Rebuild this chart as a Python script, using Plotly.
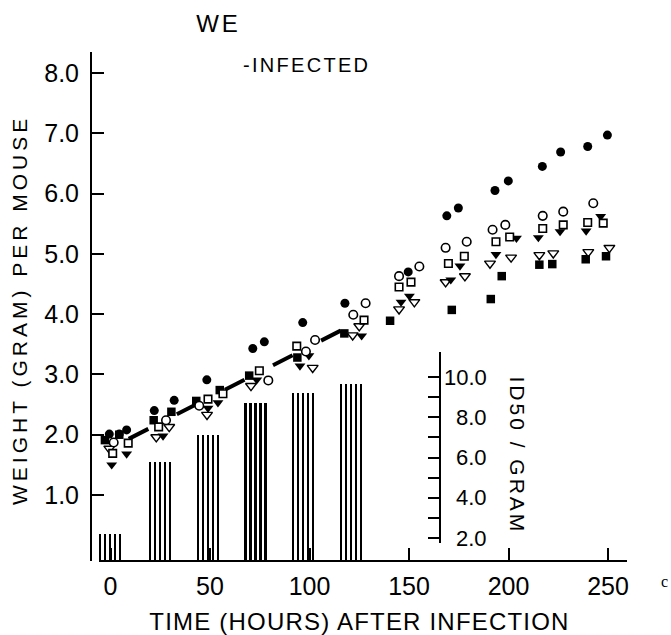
import plotly.graph_objects as go

# ---------------------------------------------------------------- data
# Weight per mouse (gram) against time after infection (hours), six groups.
FILLED_CIRCLE_HOURS = [-0.6, 4.4, 8.1, 22.0, 32.0, 48.4, 71.5, 77.3, 96.6, 117.8,
                       149.6, 169.0, 174.8, 193.2, 199.9, 217.0, 226.2, 239.8, 249.7]
FILLED_CIRCLE_WEIGHT = [2.01, 2.01, 2.08, 2.40, 2.57, 2.91, 3.43, 3.54, 3.86, 4.18,
                        4.70, 5.63, 5.76, 6.05, 6.21, 6.45, 6.69, 6.78, 6.97]

OPEN_CIRCLE_HOURS = [1.6, 27.9, 44.6, 79.3, 98.2, 102.8, 122.0, 128.2, 145.0, 155.2,
                     168.4, 179.0, 192.0, 198.4, 217.2, 227.5, 242.6]
OPEN_CIRCLE_WEIGHT = [1.87, 2.24, 2.48, 2.90, 3.38, 3.57, 3.99, 4.18, 4.63, 4.79,
                      5.10, 5.20, 5.40, 5.48, 5.63, 5.70, 5.84]

OPEN_SQUARE_HOURS = [1.1, 8.9, 24.2, 49.0, 56.5, 74.8, 93.6, 127.4, 145.0, 151.0,
                     169.8, 177.8, 193.7, 200.6, 217.2, 227.5, 239.8, 247.6]
OPEN_SQUARE_WEIGHT = [1.69, 1.86, 2.13, 2.59, 2.68, 3.06, 3.47, 3.90, 4.45, 4.53,
                      4.84, 4.96, 5.20, 5.28, 5.42, 5.48, 5.52, 5.51]

FILLED_SQUARE_HOURS = [-2.8, 4.4, 21.7, 30.6, 43.1, 54.9, 69.7, 93.9, 117.5, 140.5,
                       171.5, 191.1, 196.6, 215.5, 222.0, 238.8, 249.0]
FILLED_SQUARE_WEIGHT = [1.91, 2.00, 2.24, 2.38, 2.56, 2.74, 2.98, 3.28, 3.68, 3.89,
                        4.07, 4.25, 4.63, 4.82, 4.83, 4.91, 4.96]

FILLED_TRIANGLE_HOURS = [0.6, 8.1, 26.4, 49.0, 54.0, 73.5, 95.2, 99.7, 126.2, 146.0,
                         150.2, 171.0, 175.6, 193.7, 204.0, 215.0, 225.9, 239.0, 246.3]
FILLED_TRIANGLE_WEIGHT = [1.50, 1.68, 1.98, 2.44, 2.53, 2.91, 3.14, 3.31, 3.64, 4.20,
                          4.30, 4.57, 4.80, 4.99, 5.26, 5.27, 5.37, 5.38, 5.62]

OPEN_TRIANGLE_HOURS = [-0.6, 23.0, 29.5, 48.5, 70.6, 101.6, 121.7, 125.0, 145.0, 152.7,
                       168.4, 178.1, 190.7, 201.3, 215.5, 222.5, 240.1, 250.7]
OPEN_TRIANGLE_WEIGHT = [1.77, 1.96, 2.13, 2.33, 2.81, 3.11, 3.65, 3.80, 4.08, 4.20,
                        4.53, 4.63, 4.84, 4.94, 4.98, 5.01, 5.03, 5.10]

# Growth line of the infected mice
FIT_HOURS = [2, 123]
FIT_WEIGHT = [1.81, 3.85]

# Virus titre (ID50 per gram) shown as hatched bars
TITRE_HOURS = [0, 25, 49, 73, 97, 121]
TITRE_ID50 = [2.2, 5.8, 7.1, 8.7, 9.2, 9.65]

X_TICKS = [0, 50, 100, 150, 200, 250]
Y_TICKS = [1, 2, 3, 4, 5, 6, 7, 8]
Y_TICK_TEXT = ["1.0", "2.0", "3.0", "4.0", "5.0", "6.0", "7.0", "8.0"]
ID50_TICKS = [2, 3, 4, 5, 6, 7, 8, 9, 10]
ID50_LABEL_VALUES = [2, 4, 6, 8, 10]
ID50_LABEL_TEXT = ["2.0", "4.0", "6.0", "8.0", "10.0"]

# ------------------------------------------------------------ geometry
W, H = 671, 635
PL, PR, PT, PB = 92, 627, 52, 561          # plot area in pixels
FONT = "Liberation Sans, Arial, Helvetica, sans-serif"


def fx(px):
    return (px - PL) / (PR - PL)


def fy(py):
    return (PB - py) / (PB - PT)


def spaced(text, px):
    return '<span style="letter-spacing:%gpx">%s</span>' % (px, text)


fig = go.Figure()

# hatched titre bars: five thin strokes per bar
STROKE_STEP = 2.51
STROKE_W = 0.85
for k in range(5):
    fig.add_trace(go.Bar(
        x=TITRE_HOURS, y=TITRE_ID50, xaxis="x", yaxis="y2",
        width=STROKE_W, offset=(k - 2) * STROKE_STEP - STROKE_W / 2,
        marker=dict(color="black", line=dict(width=0)),
        showlegend=False, hoverinfo="skip",
    ))

fig.add_trace(go.Scatter(
    x=FIT_HOURS, y=FIT_WEIGHT, mode="lines",
    line=dict(color="black", width=4, dash="0px,16px,22px,16px"),
    showlegend=False, hoverinfo="skip",
))

SERIES = [
    (FILLED_SQUARE_HOURS, FILLED_SQUARE_WEIGHT, "square", 8.5, "black", 0),
    (OPEN_TRIANGLE_HOURS, OPEN_TRIANGLE_WEIGHT, "triangle-down", 9.5, "white", 1.4),
    (FILLED_TRIANGLE_HOURS, FILLED_TRIANGLE_WEIGHT, "triangle-down", 9.5, "black", 0),
    (OPEN_SQUARE_HOURS, OPEN_SQUARE_WEIGHT, "square", 7.5, "white", 1.6),
    (OPEN_CIRCLE_HOURS, OPEN_CIRCLE_WEIGHT, "circle", 8.5, "white", 1.6),
    (FILLED_CIRCLE_HOURS, FILLED_CIRCLE_WEIGHT, "circle", 9, "black", 0),
]
for hx, wy, sym, size, fill, lw in SERIES:
    fig.add_trace(go.Scatter(
        x=hx, y=wy, mode="markers",
        marker=dict(symbol=sym, size=size, color=fill,
                    line=dict(color="black", width=lw)),
        showlegend=False, hoverinfo="skip",
    ))

fig.update_layout(
    width=W, height=H,
    margin=dict(l=PL, r=W - PR, t=PT, b=H - PB, autoexpand=False),
    paper_bgcolor="white", plot_bgcolor="white",
    barmode="overlay", bargap=0,
    font=dict(family=FONT, color="black"),
    title=dict(text=spaced("WE", 3), x=218.5 / W, xref="container", xanchor="center",
               y=1 - 23.5 / H, yref="container", yanchor="middle",
               font=dict(family=FONT, size=24, color="black")),
    xaxis=dict(
        range=[(PL - 110.5) / 1.99, (PR - 110.5) / 1.99],
        tickvals=X_TICKS, ticktext=[str(v) for v in X_TICKS],
        ticks="inside", ticklen=13, tickwidth=2, tickcolor="black",
        showline=False, showgrid=False, zeroline=False,
        tickfont=dict(family=FONT, size=25, color="black"), ticklabelstandoff=8,
        title=dict(text=spaced("TIME (HOURS) AFTER INFECTION", 1.2),
                   font=dict(family=FONT, size=24, color="black"), standoff=16),
    ),
    yaxis=dict(
        range=[-0.095, 8.348],
        tickvals=Y_TICKS, ticktext=Y_TICK_TEXT,
        ticks="inside", ticklen=12, tickwidth=2, tickcolor="black",
        showline=True, linewidth=2, linecolor="black",
        showgrid=False, zeroline=False,
        tickfont=dict(family=FONT, size=25, color="black"), ticklabelstandoff=6,
    ),
    yaxis2=dict(
        overlaying="y", anchor="free", position=fx(440), side="right",
        range=[0.857, 26.149],
        tickvals=ID50_TICKS, ticks="inside", ticklen=12, tickwidth=2, tickcolor="black",
        showticklabels=False, showline=False, showgrid=False, zeroline=False,
    ),
    shapes=[
        # time axis baseline
        dict(type="line", xref="x", yref="paper", x0=(99 - 110.5) / 1.99,
             x1=(PR - 110.5) / 1.99, y0=0, y1=0, line=dict(color="black", width=2)),
        # titre axis spine
        dict(type="line", xref="paper", yref="y2", x0=fx(440), x1=fx(440),
             y0=1.75, y1=11.24, line=dict(color="black", width=2)),
    ],
)

annotations = []
for v, t in zip(ID50_LABEL_VALUES, ID50_LABEL_TEXT):
    annotations.append(dict(text=t, xref="paper", yref="y2", x=fx(489), y=v,
                            xanchor="right", yanchor="middle", showarrow=False,
                            font=dict(family=FONT, size=22, color="black")))
annotations += [
    dict(text=spaced("WEIGHT (GRAM) PER MOUSE", 4), textangle=-90,
         xref="paper", yref="paper", x=fx(19.5), y=fy(310.5),
         xanchor="center", yanchor="middle", showarrow=False,
         font=dict(family=FONT, size=21, color="black")),
    dict(text=spaced("ID50 / GRAM", 3), textangle=90, xref="paper", yref="paper",
         x=fx(517.5), y=fy(455), xanchor="center", yanchor="middle", showarrow=False,
         font=dict(family=FONT, size=21, color="black")),
    dict(text=spaced("-INFECTED", 2.3), xref="paper", yref="paper",
         x=fx(306), y=fy(64.5), xanchor="center", yanchor="middle", showarrow=False,
         font=dict(family=FONT, size=20, color="black")),
    dict(text="c", xref="paper", yref="paper", x=fx(670), y=fy(581),
         xanchor="right", yanchor="middle", showarrow=False,
         font=dict(family="Liberation Serif, DejaVu Serif, serif", size=16, color="black")),
]
fig.update_layout(annotations=annotations)

fig.write_html("out.html")
